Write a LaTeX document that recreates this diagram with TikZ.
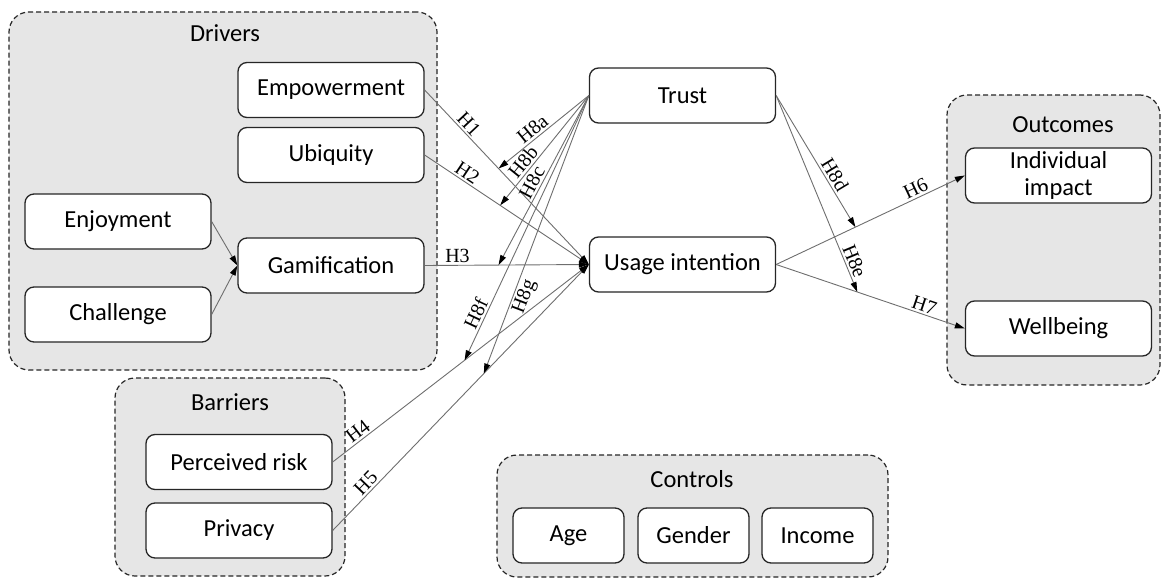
\documentclass[tikz,border=0pt]{standalone}
\usepackage{fontspec}
\setmainfont{Carlito}
\newfontfamily\hypfont{Liberation Serif}
\usetikzlibrary{arrows.meta}
\definecolor{groupfill}{HTML}{E6E6E6}
\definecolor{boxline}{HTML}{262626}
\definecolor{linegray}{HTML}{6E6E6E}

\tikzset{
    box/.style = {draw = boxline, fill = white, rounded corners = 9pt, line width = 1.3pt, minimum width = 186pt, minimum height = 55pt, inner sep = 0pt, align = center, font = \fontsize{24.5}{27}\selectfont},
    smallbox/.style = {box, minimum width = 111pt},
    group/.style = {draw = boxline, fill = groupfill, dash pattern = on 5pt off 3pt, rounded corners = 20pt, line width = 1.2pt, inner sep = 0pt},
    grouptitle/.style = {font = \fontsize{24.5}{27}\selectfont, inner sep = 0pt},
    link/.style = {draw = linegray, line width = 0.9pt, -{Triangle[length = 10pt, width = 6pt, color = black]}},
    hyp/.style = {font = \hypfont\fontsize{20}{21}\selectfont, sloped, inner sep = 2pt}
}

\begin{document}
\begin{tikzpicture}[x = 1pt, y = -1pt]

        \useasboundingbox (0, 0) rectangle (1162, 578);

        % Groups
        \node [group, minimum width = 428pt, minimum height = 358pt] (drivers) at (223, 191) {};
        \node [grouptitle] (driverst) at (225, 33) {Drivers};
        \node [group, minimum width = 230pt, minimum height = 198pt] (barriers) at (230, 477) {};
        \node [grouptitle] (barrierst) at (230, 402) {Barriers};
        \node [group, minimum width = 213pt, minimum height = 290pt] (outcomes) at (1053.5, 240) {};
        \node [grouptitle] (outcomest) at (1063, 125) {Outcomes};
        \node [group, minimum width = 391pt, minimum height = 122pt] (controls) at (692.5, 516) {};
        \node [grouptitle] (controlst) at (692, 479) {Controls};

        % Constructs
        \node [box] (emp) at (331, 90) {Empowerment};
        \node [box] (ubi) at (331, 155) {Ubiquity};
        \node [box] (enj) at (118, 221.5) {Enjoyment};
        \node [box] (cha) at (118, 314.5) {Challenge};
        \node [box] (gam) at (331, 265.5) {Gamification};
        \node [box] (risk) at (239, 462) {Perceived risk};
        \node [box] (priv) at (239, 530.5) {Privacy};
        \node [box] (trust) at (682.5, 95.5) {Trust};
        \node [box] (usage) at (682.5, 264.5) {Usage intention};
        \node [box] (impact) at (1058.5, 175.5) {Individual\\impact};
        \node [box] (well) at (1058.5, 328.5) {Wellbeing};
        \node [smallbox] (age) at (568.5, 535.5) {Age};
        \node [smallbox] (gender) at (693.5, 535.5) {Gender};
        \node [smallbox] (income) at (817.5, 535.5) {Income};

        % Direct paths
        \draw [link] (enj.east) -- (gam.west);
        \draw [link] (cha.east) -- (gam.west);
        \draw [link] (emp.east) -- node [hyp, pos = 0.23, above] {H1} coordinate [pos = 0.45] (m1) (usage.west);
        \draw [link] (ubi.east) -- node [hyp, pos = 0.23, above] {H2} coordinate [pos = 0.46] (m2) (usage.west);
        \draw [link] (gam.east) -- node [hyp, pos = 0.2, above] {H3} coordinate [pos = 0.45] (m3) (usage.west);
        \draw [link] (risk.east) -- node [hyp, pos = 0.12, above] {H4} coordinate [pos = 0.515] (m4) (usage.west);
        \draw [link] (priv.east) -- node [hyp, pos = 0.155, above] {H5} coordinate [pos = 0.59] (m5) (usage.west);
        \draw [link] (usage.east) -- node [hyp, pos = 0.76, above] {H6} coordinate [pos = 0.42] (m6) (impact.west);
        \draw [link] (usage.east) -- node [hyp, pos = 0.77, above] {H7} coordinate [pos = 0.43] (m7) (well.west);

        % Moderation by trust
        \draw [link] (trust.west) -- node [hyp, pos = 0.56, above] {H8a} (m1);
        \draw [link] (trust.west) -- node [hyp, pos = 0.66, above] {H8b} (m2);
        \draw [link] (trust.west) -- node [hyp, pos = 0.54, above] {H8c} (m3);
        \draw [link] (trust.west) -- node [hyp, pos = 0.84, above] {H8f} (m4);
        \draw [link] (trust.west) -- node [hyp, pos = 0.71, below] {H8g} (m5);
        \draw [link] (trust.east) -- node [hyp, pos = 0.64, above] {H8d} (m6);
        \draw [link] (trust.east) -- node [hyp, pos = 0.86, above] {H8e} (m7);

    \end{tikzpicture}
\end{document}
